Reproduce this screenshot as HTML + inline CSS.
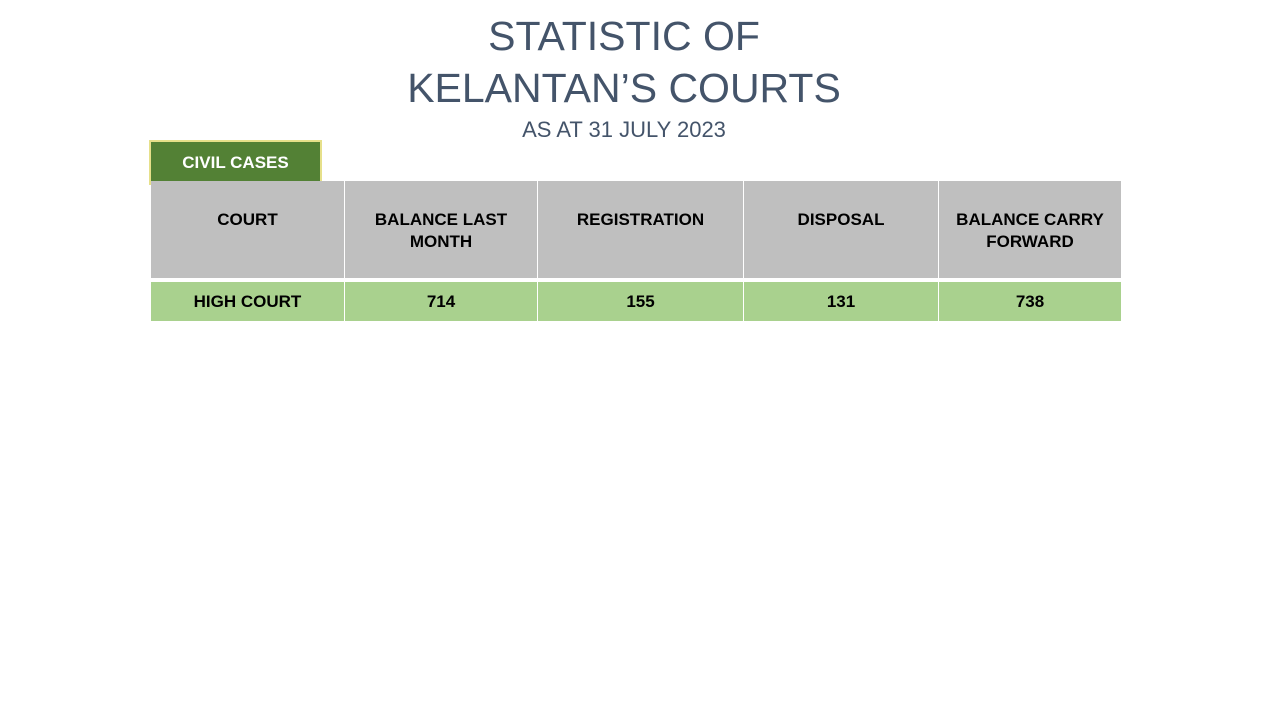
<!DOCTYPE html>
<html><head><meta charset="utf-8"><style>
body{margin:0;width:1280px;height:720px;background:#fff;position:relative;overflow:hidden;font-family:"Liberation Sans",sans-serif}
.t{position:absolute;left:0;width:1248px;text-align:center;color:#44546a;white-space:nowrap}
.cell{position:absolute;display:flex;justify-content:center;text-align:center;font-weight:bold;font-size:17px;color:#000;line-height:22px}
.h{background:#bfbfbf;top:181px;height:97px;align-items:flex-start;padding-top:28px;box-sizing:border-box}
.d{background:#a9d18e;top:282px;height:39px;align-items:center}
</style></head><body>
<div class="t" style="top:12px;font-size:41px;line-height:48px">STATISTIC OF</div>
<div class="t" style="top:64px;font-size:41px;line-height:48px">KELANTAN’S COURTS</div>
<div class="t" style="top:116px;font-size:22px;line-height:28px">AS AT 31 JULY 2023</div>
<div style="position:absolute;left:149px;top:140px;width:169px;height:41px;background:#538135;border:2px solid #e6e08a;color:#fff;font-weight:bold;font-size:17px;display:flex;align-items:center;justify-content:center">CIVIL CASES</div>
<div>
<div class="cell h" style="left:151px;width:193px">COURT</div>
<div class="cell h" style="left:345px;width:192px">BALANCE LAST<br>MONTH</div>
<div class="cell h" style="left:538px;width:205px">REGISTRATION</div>
<div class="cell h" style="left:744px;width:194px">DISPOSAL</div>
<div class="cell h" style="left:939px;width:182px">BALANCE CARRY<br>FORWARD</div>
<div class="cell d" style="left:151px;width:193px">HIGH COURT</div>
<div class="cell d" style="left:345px;width:192px">714</div>
<div class="cell d" style="left:538px;width:205px">155</div>
<div class="cell d" style="left:744px;width:194px">131</div>
<div class="cell d" style="left:939px;width:182px">738</div>
</div>
</body></html>
